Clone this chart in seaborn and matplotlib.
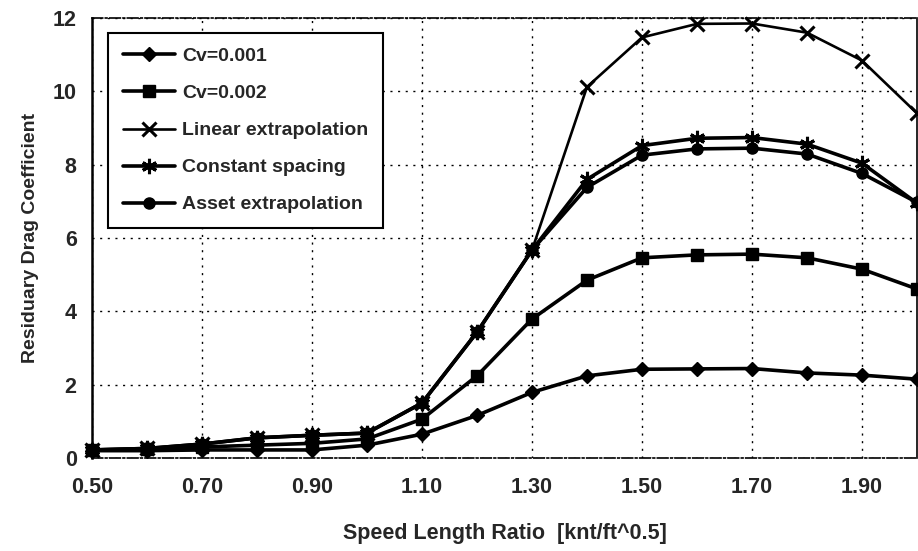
import matplotlib
matplotlib.use("Agg")
import matplotlib.pyplot as plt
import seaborn as sns
import pandas as pd

# Speed length ratio values
speed_ratio = [0.5, 0.6, 0.7, 0.8, 0.9, 1.0, 1.1, 1.2, 1.3, 1.4, 1.5, 1.6, 1.7, 1.8, 1.9, 2.0]

# Residuary drag coefficient for each method
cv_0001 = [0.20, 0.20, 0.22, 0.22, 0.22, 0.35, 0.65, 1.16, 1.79, 2.24, 2.42, 2.43, 2.44, 2.32, 2.26, 2.15]
cv_0002 = [0.22, 0.24, 0.30, 0.35, 0.40, 0.52, 1.06, 2.24, 3.79, 4.85, 5.46, 5.54, 5.56, 5.46, 5.15, 4.61]
linear_extrap = [0.22, 0.26, 0.38, 0.55, 0.62, 0.68, 1.50, 3.43, 5.67, 10.12, 11.47, 11.84, 11.85, 11.60, 10.84, 9.40]
constant_spacing = [0.22, 0.26, 0.38, 0.55, 0.62, 0.68, 1.50, 3.43, 5.67, 7.60, 8.52, 8.72, 8.74, 8.56, 8.04, 6.95]
asset_extrap = [0.22, 0.26, 0.38, 0.55, 0.62, 0.68, 1.50, 3.43, 5.67, 7.38, 8.26, 8.43, 8.45, 8.29, 7.76, 6.97]

series_names = ["Cv=0.001", "Cv=0.002", "Linear extrapolation", "Constant spacing", "Asset extrapolation"]
series_values = [cv_0001, cv_0002, linear_extrap, constant_spacing, asset_extrap]

x_ticks = [0.5, 0.7, 0.9, 1.1, 1.3, 1.5, 1.7, 1.9]
x_tick_labels = ["0.50", "0.70", "0.90", "1.10", "1.30", "1.50", "1.70", "1.90"]
y_ticks = [0, 2, 4, 6, 8, 10, 12]

sns.set_style("white")
plt.rcParams["font.family"] = ["Liberation Sans", "DejaVu Sans"]
plt.rcParams["font.weight"] = "bold"

fig = plt.figure(figsize=(9.18, 5.51), dpi=100)
ax = fig.add_axes([92 / 918, 93 / 551, 825 / 918, 440 / 551])

styles = {
    "Cv=0.001": dict(marker="D", markersize=7, linewidth=2.6),
    "Cv=0.002": dict(marker="s", markersize=8, linewidth=2.6),
    "Linear extrapolation": dict(marker="x", markersize=10, markeredgewidth=2.2, linewidth=1.9),
    "Constant spacing": dict(marker=(6, 2, 0), markersize=11, markeredgewidth=2.2, linewidth=2.6),
    "Asset extrapolation": dict(marker="o", markersize=8, linewidth=2.6),
}

for name, vals in zip(series_names, series_values):
    df = pd.DataFrame({"speed": speed_ratio, "drag": vals})
    st = styles[name]
    sns.lineplot(data=df, x="speed", y="drag", ax=ax, color="black",
                 marker=st["marker"], markersize=st["markersize"],
                 markeredgewidth=st.get("markeredgewidth", 1.0),
                 markeredgecolor="black", markerfacecolor="black",
                 linewidth=st["linewidth"], label=name, clip_on=False, zorder=3)

ax.set_xlim(0.5, 2.0)
ax.set_ylim(0, 12)
ax.set_xticks(x_ticks)
ax.set_xticklabels(x_tick_labels)
ax.set_yticks(y_ticks)
ax.tick_params(axis="x", labelsize=15.5, direction="inout", length=6,
               color="black", width=1.2, pad=11)
ax.tick_params(axis="y", labelsize=15.5, direction="inout", length=6,
               color="black", width=1.2, pad=8)
for lbl in ax.get_xticklabels() + ax.get_yticklabels():
    lbl.set_fontweight("bold")

ax.grid(True, color="black", linestyle=(0, (1.5, 4)), linewidth=1.0, zorder=1)

for side in ["top", "bottom"]:
    ax.spines[side].set_linestyle("-.")
    ax.spines[side].set_linewidth(1.2)
    ax.spines[side].set_color("black")
ax.spines["left"].set_linewidth(1.8)
ax.spines["left"].set_color("black")
ax.spines["right"].set_linewidth(1.2)
ax.spines["right"].set_color("black")

ax.set_xlabel("Speed Length Ratio  [knt/ft^0.5]", fontsize=15.5, fontweight="bold", labelpad=18)
ax.set_ylabel("Residuary Drag Coefficient", fontsize=14, fontweight="bold", labelpad=10)

leg = ax.legend(loc="upper left", bbox_to_anchor=(16 / 825, 1 - 15 / 440),
                borderaxespad=0, fontsize=14, frameon=True, fancybox=False,
                framealpha=1, edgecolor="black", handlelength=2.7,
                borderpad=0.75, labelspacing=1.0, handletextpad=0.35)
leg.get_frame().set_linewidth(1.5)
for t in leg.get_texts():
    t.set_fontweight("bold")

fig.savefig("out.png", dpi=100)
